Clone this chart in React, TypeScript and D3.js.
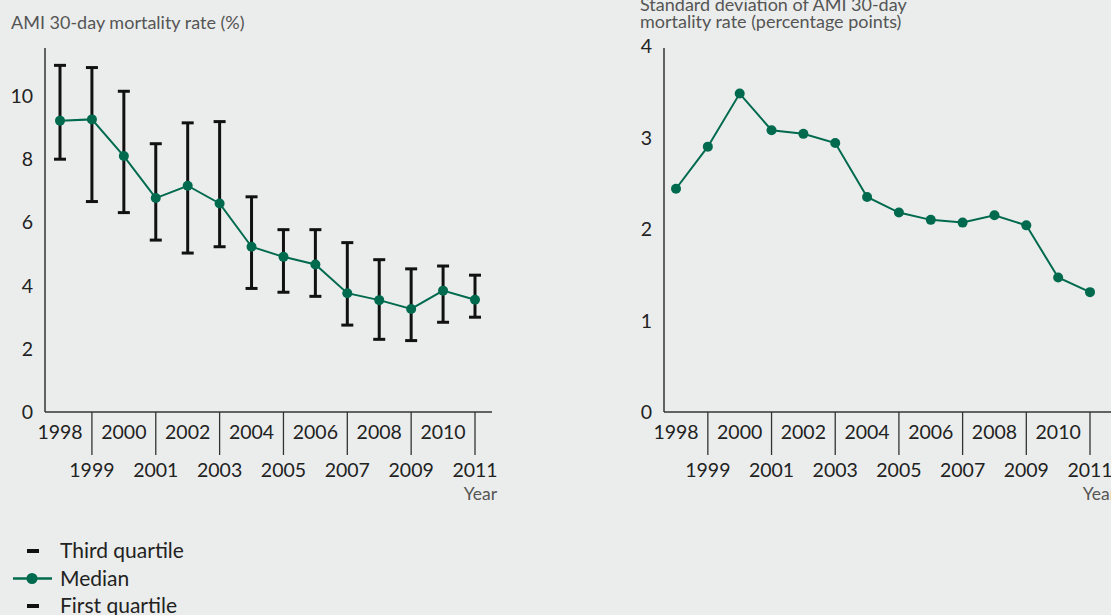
import React from 'react';
import * as d3 from 'd3';

// years on the x axis
const years = [1998, 1999, 2000, 2001, 2002, 2003, 2004, 2005, 2006, 2007, 2008, 2009, 2010, 2011];

// left panel: AMI 30-day mortality rate (%)
const median = [9.22, 9.26, 8.1, 6.77, 7.16, 6.6, 5.23, 4.91, 4.67, 3.76, 3.54, 3.26, 3.84, 3.55];
const thirdQuartile = [10.97, 10.9, 10.15, 8.49, 9.15, 9.19, 6.81, 5.77, 5.77, 5.36, 4.82, 4.53, 4.62, 4.33];
const firstQuartile = [8.0, 6.66, 6.31, 5.44, 5.03, 5.23, 3.91, 3.79, 3.66, 2.75, 2.3, 2.26, 2.84, 3.0];
const leftTicks = [0, 2, 4, 6, 8, 10];

// right panel: standard deviation (percentage points)
const stdDev = [2.44, 2.9, 3.48, 3.08, 3.04, 2.94, 2.35, 2.18, 2.1, 2.07, 2.15, 2.04, 1.47, 1.31];
const rightTicks = [0, 1, 2, 3, 4];

const legendItems = ['Third quartile', 'Median', 'First quartile'];

const GREEN = '#006a4e';
const FONT = 'Lato, "Noto Sans", sans-serif';

interface PanelProps {
  x: d3.ScaleLinear<number, number>;
  y: d3.ScaleLinear<number, number>;
  axisLeft: number;
  axisRight: number;
  axisTop: number;
  ticks: number[];
}

const Axes: React.FC<PanelProps> = ({ x, y, axisLeft, axisRight, axisTop, ticks }) => {
  const base = y(0);
  return (
    <g>
      <line x1={axisLeft} x2={axisLeft} y1={axisTop} y2={base} stroke="#333" strokeWidth={1.5} />
      <line x1={axisLeft} x2={axisRight} y1={base} y2={base} stroke="#333" strokeWidth={1.5} />
      {ticks.map(t => (
        <text key={t} x={axisLeft - 12} y={y(t) + 7} textAnchor="end" fontSize={19.5} fill="#222">
          {t}
        </text>
      ))}
      {years.map((yr, i) => {
        const odd = i % 2 === 1;
        return (
          <g key={yr}>
            {odd && <line x1={x(yr)} x2={x(yr)} y1={base} y2={base + 43} stroke="#333" strokeWidth={1.3} />}
            <text x={x(yr)} y={odd ? base + 65 : base + 27} textAnchor="middle" fontSize={19.5} fill="#222">
              {yr}
            </text>
          </g>
        );
      })}
      <text x={axisRight + 5} y={base + 88} textAnchor="end" fontSize={17.5} fill="#555">Year</text>
    </g>
  );
};

const App: React.FC = () => {
  const xL = d3.scaleLinear().domain([1998, 2011]).range([60, 475]);
  const yL = d3.scaleLinear().domain([0, 10]).range([412, 96]);
  const xR = d3.scaleLinear().domain([1998, 2011]).range([676, 1090]);
  const yR = d3.scaleLinear().domain([0, 4]).range([412, 46]);

  const lineL = d3.line<number>().x((_, i) => xL(years[i])).y(d => yL(d));
  const lineR = d3.line<number>().x((_, i) => xR(years[i])).y(d => yR(d));

  return (
    <svg width={1111} height={615} style={{ position: 'fixed', left: 0, top: 0, fontFamily: FONT }}>
      <rect width={1111} height={615} fill="#ebedec" />

      {/* left panel */}
      <text x={11} y={29} fontSize={18} fill="#555">AMI 30-day mortality rate (%)</text>
      <Axes x={xL} y={yL} axisLeft={45} axisRight={492} axisTop={48} ticks={leftTicks} />
      {years.map((yr, i) => (
        <g key={yr} stroke="#111" strokeWidth={3}>
          <line x1={xL(yr)} x2={xL(yr)} y1={yL(thirdQuartile[i])} y2={yL(firstQuartile[i])} />
          <line x1={xL(yr) - 6} x2={xL(yr) + 6} y1={yL(thirdQuartile[i])} y2={yL(thirdQuartile[i])} />
          <line x1={xL(yr) - 6} x2={xL(yr) + 6} y1={yL(firstQuartile[i])} y2={yL(firstQuartile[i])} />
        </g>
      ))}
      <path d={lineL(median) || ''} fill="none" stroke={GREEN} strokeWidth={2} />
      {median.map((v, i) => (
        <circle key={i} cx={xL(years[i])} cy={yL(v)} r={5} fill={GREEN} />
      ))}

      {/* right panel */}
      <text fontSize={18} fill="#555">
        <tspan x={640} y={11}>Standard deviation of AMI 30-day</tspan>
        <tspan x={640} y={28}>mortality rate (percentage points)</tspan>
      </text>
      <Axes x={xR} y={yR} axisLeft={664} axisRight={1111} axisTop={48} ticks={rightTicks} />
      <path d={lineR(stdDev) || ''} fill="none" stroke={GREEN} strokeWidth={2} />
      {stdDev.map((v, i) => (
        <circle key={i} cx={xR(years[i])} cy={yR(v)} r={5} fill={GREEN} />
      ))}

      {/* legend */}
      {legendItems.map((label, i) => {
        const cy = 551 + i * 27.5;
        return (
          <g key={label}>
            {label === 'Median' ? (
              <g>
                <line x1={13} x2={52} y1={cy} y2={cy} stroke={GREEN} strokeWidth={2.5} />
                <circle cx={32} cy={cy} r={5.5} fill={GREEN} />
              </g>
            ) : (
              <line x1={27} x2={39} y1={cy} y2={cy} stroke="#111" strokeWidth={4} />
            )}
            <text x={60} y={cy + 7} fontSize={21} fill="#222">{label}</text>
          </g>
        );
      })}
    </svg>
  );
};

export default App;
